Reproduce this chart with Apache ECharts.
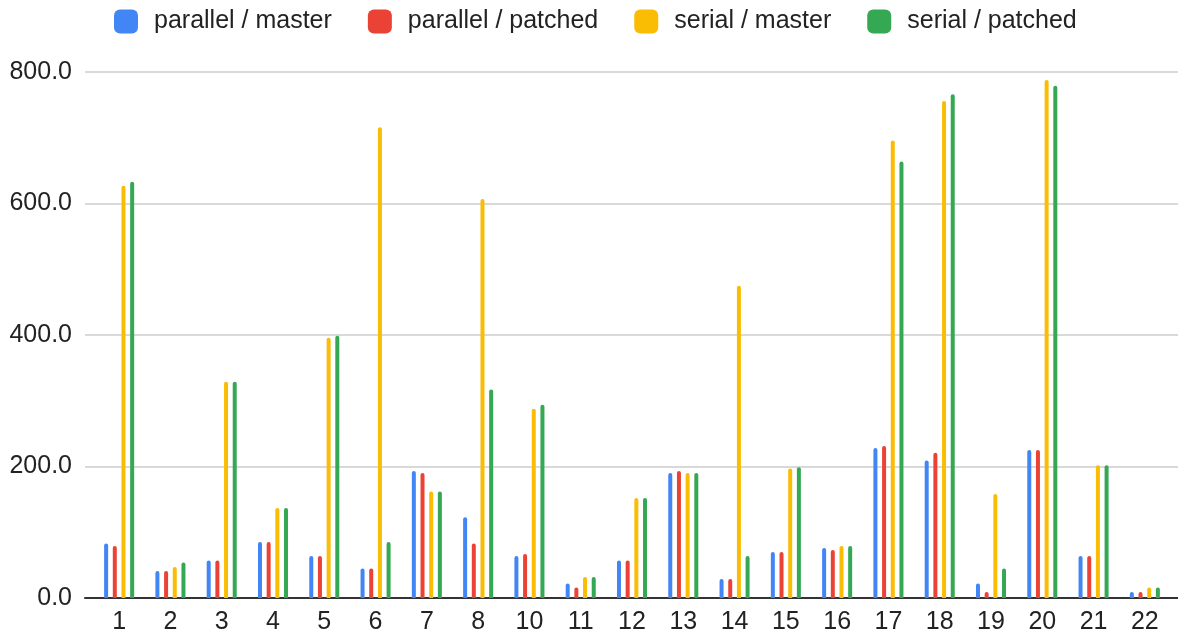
<!DOCTYPE html>
<html>
<head>
<meta charset="utf-8">
<script src="https://cdn.jsdelivr.net/npm/echarts@6/dist/echarts.min.js"></script>
<style>
html,body{margin:0;padding:0;background:#fff;}
#chart{width:1178px;height:638px;}
</style>
</head>
<body>
<div id="chart"></div>
<script>
const categories = ['1','2','3','4','5','6','7','8','10','11','12','13','14','15','16','17','18','19','20','21','22'];
const seriesNames = ['parallel / master','parallel / patched','serial / master','serial / patched'];
const parallelMaster  = [83, 41, 57, 85, 64, 45, 193, 123, 64, 22, 57, 190, 29, 70, 76, 228, 209, 22, 225, 64, 9];
const parallelPatched = [79, 41, 57, 85, 64, 45, 190, 83, 67, 16, 57, 193, 29, 70, 73, 231, 221, 9, 225, 64, 9];
const serialMaster    = [627, 47, 329, 137, 396, 716, 162, 607, 288, 32, 152, 190, 475, 197, 79, 696, 756, 158, 788, 202, 16];
const serialPatched   = [633, 54, 329, 137, 399, 85, 162, 317, 294, 32, 152, 190, 64, 199, 79, 664, 766, 45, 779, 202, 16];
const yTicks = [0, 200, 400, 600, 800];
const colors = ['#4285F4', '#EA4335', '#FBBC04', '#34A853'];

const values = [parallelMaster, parallelPatched, serialMaster, serialPatched];
const font = 'Liberation Sans, Arial, sans-serif';

const chart = echarts.init(document.getElementById('chart'), null, {renderer: 'canvas'});
chart.setOption({
  animation: false,
  color: colors,
  legend: {
    top: 9,
    left: 114,
    padding: 0,
    itemWidth: 24,
    itemHeight: 24,
    itemGap: 36,
    icon: 'roundRect',
    data: seriesNames,
    textStyle: {fontFamily: font, fontSize: 25, color: '#222', padding: [0, 0, 0, 11]}
  },
  grid: [
    {left: 85, right: 0, top: 72, bottom: 40},
    {left: 93.5, right: 7.5, top: 72, bottom: 40}
  ],
  xAxis: [
    {
      gridIndex: 0, type: 'category', data: categories,
      axisLine: {show: true, lineStyle: {color: '#333', width: 2}},
      axisTick: {show: false}, axisLabel: {show: false}, splitLine: {show: false}
    },
    {
      gridIndex: 1, type: 'category', data: categories,
      axisLine: {show: false}, axisTick: {show: false},
      axisLabel: {fontFamily: font, fontSize: 25, color: '#222', margin: 12}
    }
  ],
  yAxis: [
    {
      gridIndex: 0, type: 'value', min: yTicks[0], max: yTicks[yTicks.length - 1], interval: 200,
      axisLine: {show: false}, axisTick: {show: false},
      axisLabel: {fontFamily: font, fontSize: 25, color: '#222', margin: 13, formatter: v => v.toFixed(1)},
      splitLine: {lineStyle: {color: '#cccccc', width: 1.5}}
    },
    {
      gridIndex: 1, type: 'value', min: yTicks[0], max: yTicks[yTicks.length - 1], interval: 200,
      axisLine: {show: false}, axisTick: {show: false}, axisLabel: {show: false}, splitLine: {show: false}
    }
  ],
  series: seriesNames.map((name, i) => ({
    name: name,
    type: 'bar',
    xAxisIndex: 1,
    yAxisIndex: 1,
    data: values[i],
    barWidth: 4,
    barGap: '117%',
    itemStyle: {color: colors[i], borderRadius: [2, 2, 0, 0]},
    z: 3
  }))
});
</script>
</body>
</html>
